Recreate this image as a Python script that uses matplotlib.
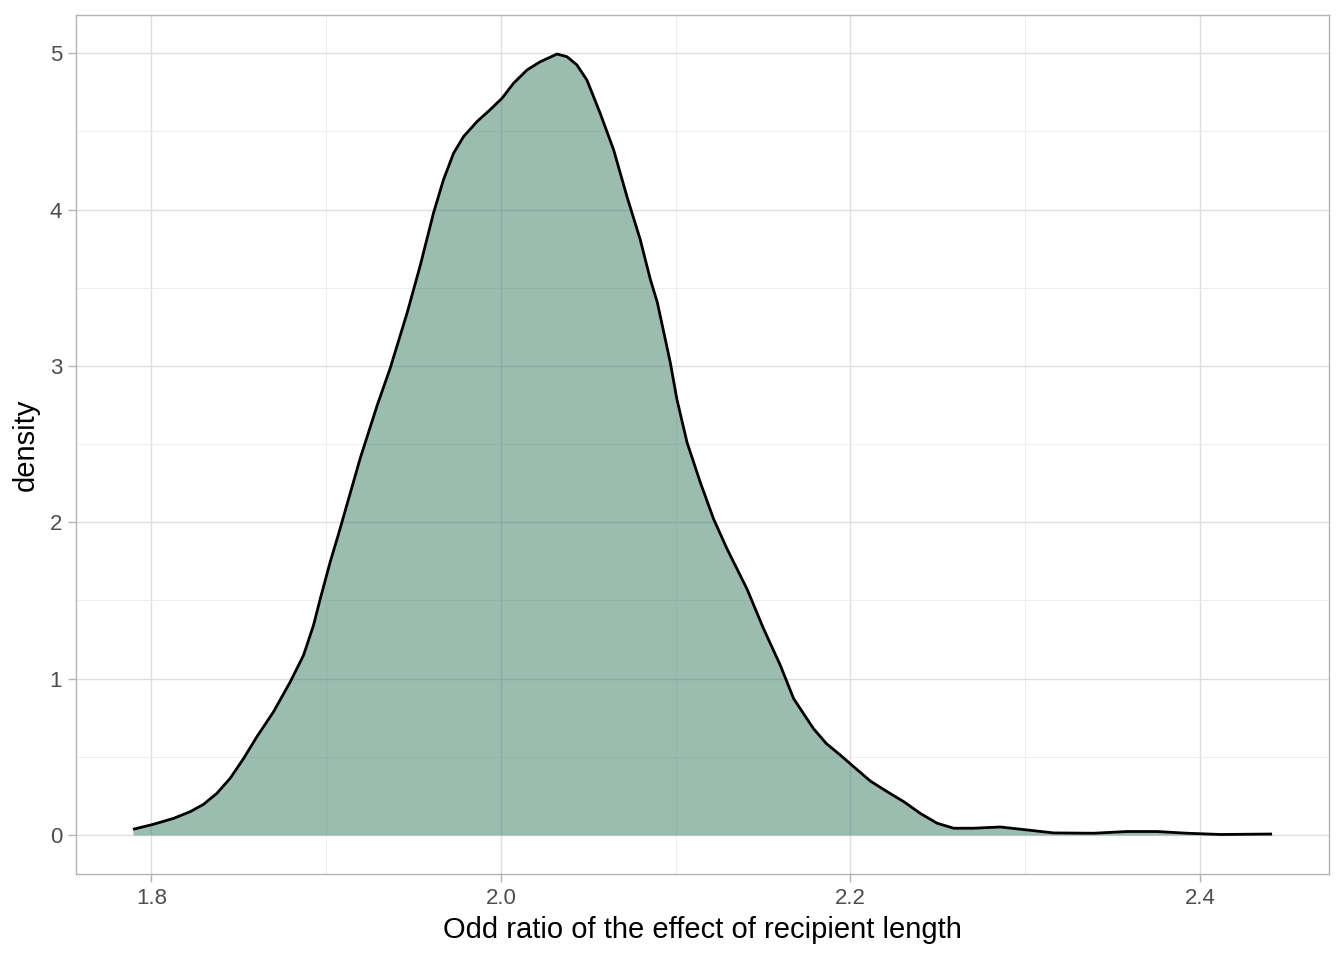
import numpy as np
import matplotlib.pyplot as plt
from matplotlib.ticker import MultipleLocator

plt.rcParams['font.family'] = ['Liberation Sans', 'DejaVu Sans']

# Densidade estimada
odd_ratio = [1.7894, 1.8011, 1.8126, 1.8222, 1.8298, 1.8374, 1.8450, 1.8527, 1.8603, 1.8698,
             1.8794, 1.8870, 1.8927, 1.8966, 1.9023, 1.9069, 1.9195, 1.9292, 1.9366, 1.9464,
             1.9538, 1.9614, 1.9671, 1.9729, 1.9786, 1.9863, 1.9939, 2.0006, 2.0072, 2.0149,
             2.0225, 2.0321, 2.0378, 2.0435, 2.0492, 2.0568, 2.0645, 2.0721, 2.0797, 2.0855,
             2.0895, 2.0969, 2.1007, 2.1065, 2.1141, 2.1217, 2.1294, 2.1408, 2.1503, 2.1599,
             2.1675, 2.1788, 2.1862, 2.1942, 2.2018, 2.2114, 2.2210, 2.2305, 2.2400, 2.2496,
             2.2591, 2.2705, 2.2858, 2.3011, 2.3163, 2.3392, 2.3583, 2.3755, 2.3927, 2.4118,
             2.4413]
density = [0.036, 0.068, 0.106, 0.149, 0.196, 0.266, 0.362, 0.489, 0.628, 0.787,
           0.979, 1.149, 1.340, 1.511, 1.747, 1.919, 2.411, 2.749, 2.985, 3.343,
           3.642, 3.978, 4.191, 4.361, 4.467, 4.563, 4.640, 4.712, 4.808, 4.893,
           4.946, 4.995, 4.978, 4.925, 4.829, 4.616, 4.382, 4.084, 3.809, 3.554,
           3.406, 3.023, 2.787, 2.511, 2.255, 2.021, 1.830, 1.574, 1.319, 1.085,
           0.872, 0.681, 0.585, 0.511, 0.437, 0.345, 0.277, 0.213, 0.138, 0.075,
           0.043, 0.043, 0.051, 0.032, 0.013, 0.011, 0.022, 0.022, 0.011, 0.003,
           0.006]

x_ticks = [1.8, 2.0, 2.2, 2.4]
y_ticks = [0, 1, 2, 3, 4, 5]

fig = plt.figure(figsize=(13.44, 9.6), dpi=100)
ax = fig.add_axes([76 / 1344, 86 / 960, 1253 / 1344, 859 / 960])

x = np.array(odd_ratio)
y = np.array(density)

# grade estilo theme_light
ax.set_axisbelow(True)
ax.xaxis.set_minor_locator(MultipleLocator(0.1))
ax.yaxis.set_minor_locator(MultipleLocator(0.5))
ax.grid(which='major', color='#DEDEDE', linewidth=1.0)
ax.grid(which='minor', color='#EBEBEB', linewidth=0.6)

ax.fill_between(x, 0, y, color='#3B7A63', alpha=0.5, linewidth=0)
ax.plot(x, y, color='black', linewidth=2.0, solid_capstyle='butt',
        solid_joinstyle='round')

xr = x.max() - x.min()
ax.set_xlim(x.min() - 0.05 * xr, x.max() + 0.05 * xr)
ax.set_ylim(-0.05 * y.max(), y.max() * 1.05)
ax.set_xticks(x_ticks)
ax.set_xticklabels(['1.8', '2.0', '2.2', '2.4'])
ax.set_yticks(y_ticks)

for s in ax.spines.values():
    s.set_color('#B3B3B3')
    s.set_linewidth(1.0)
ax.tick_params(which='major', length=6, width=1.0, color='#B3B3B3',
               labelsize=16, labelcolor='#4D4D4D', pad=4)
ax.tick_params(which='minor', length=0)

ax.set_xlabel('Odd ratio of the effect of recipient length', fontsize=21, labelpad=5)
ax.set_ylabel('density', fontsize=21, labelpad=7)

fig.savefig('out.png', dpi=100)
